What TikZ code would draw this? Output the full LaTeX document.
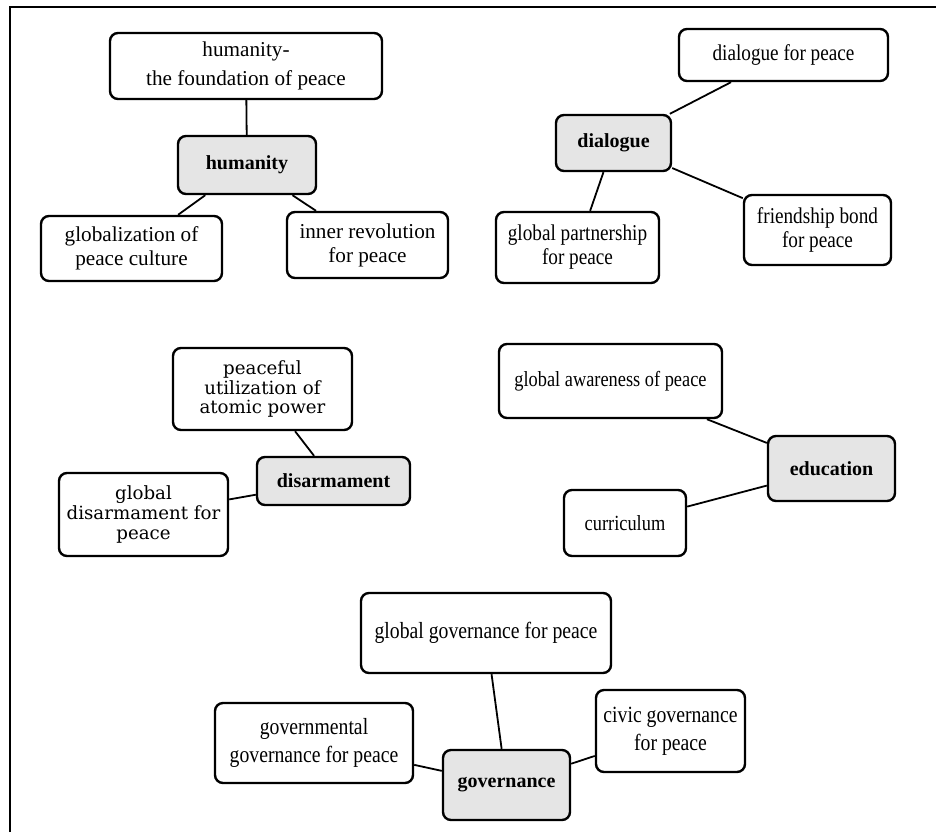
\documentclass[tikz,border=0pt]{standalone}
\usepackage{fontspec}
\setmainfont{Liberation Serif}
\newfontfamily\disfont{DejaVu Serif}
\newfontfamily\narrowfont[FakeStretch=0.85]{Liberation Serif}
\usepackage{tikz}
\usetikzlibrary{positioning}

\tikzset{
  box/.style={draw, line width=1.2pt, rounded corners=4pt, fill=white,
    align=center, inner sep=0pt},
  hub/.style={box, fill=gray!20, font=\bfseries},
  link/.style={line width=0.9pt}
}

\begin{document}
\begin{tikzpicture}[x=0.5pt,y=-0.5pt]
\useasboundingbox (0,0) rectangle (936,832);
\draw[line width=1.1pt] (10,832) -- (10,7) -- (936,7);

\begin{scope}[font=\fontsize{10.6}{12}\selectfont]
  \node[box, minimum width=136pt, minimum height=33pt] (humtop) at (246,66)
    {humanity-\\[2.5pt]the foundation of peace};
  \node[hub, minimum width=69pt, minimum height=29pt] (hum) at (247,165) {humanity};
  \node[box, minimum width=90.5pt, minimum height=32.5pt] (humglob) at (131.5,248.5)
    {globalization of\\peace culture};
  \node[box, minimum width=80.5pt, minimum height=33pt] (huminner) at (367.5,245)
    {inner revolution\\for peace};
\end{scope}

\begin{scope}[font=\narrowfont\fontsize{11.3}{12}\selectfont]
  \node[box, minimum width=104.5pt, minimum height=26pt] (diatop) at (783.5,55)
    {dialogue for peace};
  \node[hub, minimum width=57.5pt, minimum height=28pt] (dia) at (613.5,143) {dialogue};
  \node[box, minimum width=81.5pt, minimum height=35.5pt] (diapart) at (577.5,247.5)
    {global partnership\\for peace};
  \node[box, minimum width=73.5pt, minimum height=35pt] (diafriend) at (817.5,230)
    {friendship bond\\for peace};
\end{scope}

\begin{scope}[font=\disfont\fontsize{9.1}{9.8}\selectfont]
  \node[box, minimum width=89.5pt, minimum height=41pt] (distop) at (262.5,389)
    {peaceful\\utilization of\\atomic power};
  \node[hub, minimum width=76.5pt, minimum height=24pt] (dis) at (333.5,481) {disarmament};
  \node[box, minimum width=84.5pt, minimum height=41.5pt] (disglob) at (143.5,514.5)
    {global\\disarmament for\\peace};
\end{scope}

\begin{scope}[font=\narrowfont\fontsize{10.8}{11}\selectfont]
  \node[box, minimum width=111.5pt, minimum height=37pt] (eduaware) at (610.5,381)
    {global awareness of peace};
  \node[hub, minimum width=63.5pt, minimum height=32.5pt] (edu) at (831.5,468.5) {education};
  \node[box, minimum width=61pt, minimum height=33pt] (educurr) at (625,523) {curriculum};
\end{scope}

\begin{scope}[font=\narrowfont\fontsize{11.6}{14}\selectfont]
  \node[box, minimum width=125pt, minimum height=40pt] (govtop) at (486,633)
    {global governance for peace};
  \node[hub, minimum width=63.5pt, minimum height=35pt] (gov) at (506.5,785) {governance};
  \node[box, minimum width=99pt, minimum height=40pt] (govgovt) at (314,743)
    {governmental\\governance for peace};
  \node[box, minimum width=74.5pt, minimum height=41pt] (govcivic) at (670.5,731)
    {civic governance\\for peace};
\end{scope}

\path[link] (hum) edge (humtop) edge (humglob) edge (huminner);
\path[link] (dia) edge (diatop) edge (diapart) edge (diafriend);
\path[link] (dis) edge (distop) edge (disglob);
\path[link] (edu) edge (eduaware) edge (educurr);
\path[link] (gov) edge (govtop) edge (govgovt) edge (govcivic);
\end{tikzpicture}
\end{document}
